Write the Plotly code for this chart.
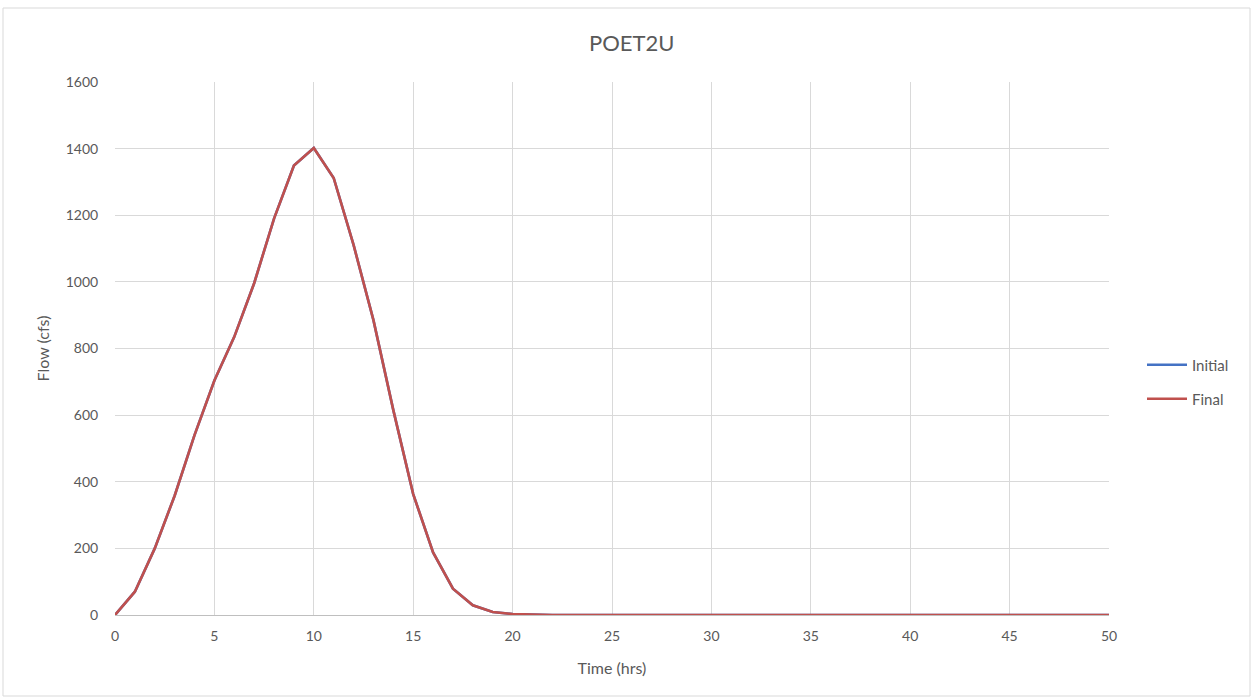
import plotly.graph_objects as go

# Hydrograph time steps (hours) and flows (cfs)
hours = list(range(0, 51))
final_flow = [0, 70, 200, 358, 540, 704, 835, 996, 1190, 1349,
              1402, 1312, 1111, 885, 615, 363, 188, 79, 29, 9,
              3, 1] + [0] * 29
initial_flow = list(final_flow)

x_ticks = list(range(0, 51, 5))
y_ticks = list(range(0, 1601, 200))

W, H = 1251, 698
L, R, T, B = 115, 1109, 82, 615


def px_x(p):
    return (p - L) / (R - L)


def px_y(p):
    return (B - p) / (B - T)


FONT = "Lato, 'Open Sans', sans-serif"
TXT = "#595959"

fig = go.Figure()
fig.add_trace(go.Scatter(x=hours, y=initial_flow, mode="lines", name="Initial",
                         line=dict(color="#4472C4", width=2.6), legend="legend",
                         showlegend=True))
fig.add_trace(go.Scatter(x=hours, y=final_flow, mode="lines", name="Final",
                         line=dict(color="#C0504D", width=2.6), legend="legend2",
                         showlegend=True))

leg_common = dict(font=dict(family=FONT, size=15, color=TXT), bgcolor="rgba(0,0,0,0)",
                  xanchor="left", yanchor="middle", itemwidth=40, visible=True)

fig.update_layout(
    width=W, height=H,
    showlegend=True,
    margin=dict(l=L, r=W - R, t=T, b=H - B),
    paper_bgcolor="white", plot_bgcolor="white",
    title=dict(text="POET2U", x=0.505, xanchor="center", y=1 - 43 / H, yanchor="middle",
               font=dict(family=FONT, size=22, color=TXT)),
    xaxis=dict(range=[0, 50], tickvals=x_ticks, showgrid=True, gridcolor="#D9D9D9",
               gridwidth=1, zeroline=False, showline=True, linecolor="#BFBFBF", linewidth=1,
               ticks="outside", ticklen=8, tickcolor="rgba(0,0,0,0)",
               tickfont=dict(family=FONT, size=14, color=TXT),
               title=dict(text="Time (hrs)", font=dict(family=FONT, size=16, color=TXT),
                          standoff=20)),
    yaxis=dict(range=[0, 1600], tickvals=y_ticks, showgrid=True, gridcolor="#D9D9D9",
               gridwidth=1, zeroline=False, showline=False,
               ticks="outside", ticklen=13, tickcolor="rgba(0,0,0,0)",
               tickfont=dict(family=FONT, size=14, color=TXT),
               title=dict(text="Flow (cfs)", font=dict(family=FONT, size=16, color=TXT),
                          standoff=12)),
    legend=dict(x=px_x(1142), y=px_y(365), **leg_common),
    legend2=dict(x=px_x(1142), y=px_y(399), **leg_common),
    shapes=[dict(type="rect", xref="paper", yref="paper",
                 x0=px_x(3), x1=px_x(1250), y0=px_y(696), y1=px_y(8),
                 line=dict(color="#D9D9D9", width=1), fillcolor="rgba(0,0,0,0)", layer="below")],
)

fig.write_html("out.html")
